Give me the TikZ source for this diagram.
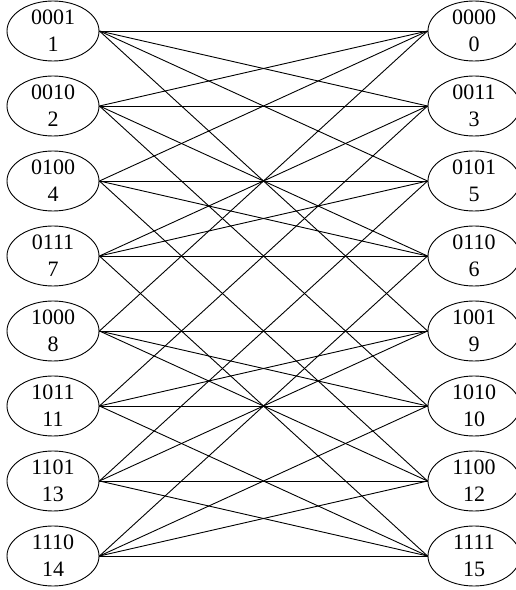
\documentclass[tikz,border=0pt]{standalone}
\usepackage{fontspec}
\setmainfont{Liberation Serif}
\usetikzlibrary{shapes.geometric}

\begin{document}
\begin{tikzpicture}[x=1pt, y=1pt, line width=0.9pt,
  code/.style={draw, ellipse, minimum width=92pt, minimum height=60pt, inner sep=0pt,
    align=center, font=\fontsize{22}{27}\selectfont}]
  \useasboundingbox (0,0) rectangle (515,590);
  % left column: odd weight, right column: even weight
  \foreach \b/\n [count=\i from 0] in {0001/1,0010/2,0100/4,0111/7,1000/8,1011/11,1101/13,1110/14}
    \node[code] (L\n) at (53,559-75*\i) {\b\\\n};
  \foreach \b/\n [count=\i from 0] in {0000/0,0011/3,0101/5,0110/6,1001/9,1010/10,1100/12,1111/15}
    \node[code] (R\n) at (474,559-75*\i) {\b\\\n};
  % edges of the 4-cube
  \foreach \a/\b in {1/0,1/3,1/5,1/9, 2/0,2/3,2/6,2/10, 4/0,4/5,4/6,4/12, 7/3,7/5,7/6,7/15,
                     8/0,8/9,8/10,8/12, 11/3,11/9,11/10,11/15, 13/5,13/9,13/12,13/15, 14/6,14/10,14/12,14/15}
    \draw (L\a.east) -- (R\b.west);
\end{tikzpicture}
\end{document}
